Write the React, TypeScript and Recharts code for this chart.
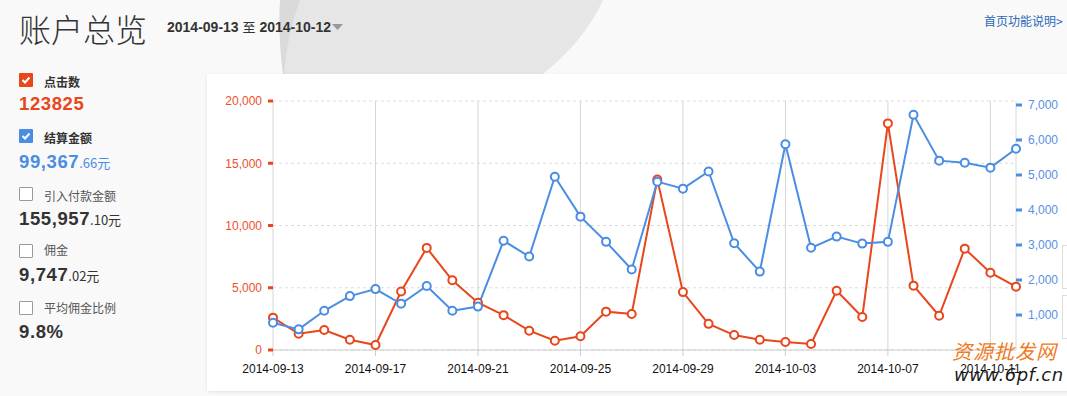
import React from 'react';
import { LineChart, Line, XAxis, YAxis, CartesianGrid } from 'recharts';

const dates = [
  '2014-09-13', '2014-09-14', '2014-09-15', '2014-09-16', '2014-09-17', '2014-09-18',
  '2014-09-19', '2014-09-20', '2014-09-21', '2014-09-22', '2014-09-23', '2014-09-24',
  '2014-09-25', '2014-09-26', '2014-09-27', '2014-09-28', '2014-09-29', '2014-09-30',
  '2014-10-01', '2014-10-02', '2014-10-03', '2014-10-04', '2014-10-05', '2014-10-06',
  '2014-10-07', '2014-10-08', '2014-10-09', '2014-10-10', '2014-10-11', '2014-10-12',
];

// 点击数 (left axis)
const clicks = [
  2600, 1300, 1600, 830, 400, 4700, 8200, 5600, 3800, 2800, 1550, 750, 1100, 3080, 2890,
  13700, 4650, 2100, 1200, 830, 640, 480, 4760, 2650, 18200, 5170, 2750, 8140, 6210, 5090,
];

// 结算金额 (right axis)
const amounts = [
  780, 590, 1120, 1540, 1740, 1320, 1830, 1120, 1240, 3120, 2670, 4950, 3810, 3090, 2300,
  4810, 4610, 5100, 3050, 2240, 5880, 2920, 3240, 3040, 3090, 6720, 5410, 5350, 5210, 5750,
];

const leftTicks = [0, 5000, 10000, 15000, 20000];
const rightTicks = [1000, 2000, 3000, 4000, 5000, 6000, 7000];

const RED = '#e8461b';
const BLUE = '#4a8de3';

const data = dates.map((d, i) => ({ date: d, clicks: clicks[i], amount: amounts[i] }));

const fmt = (v: number) => v.toLocaleString('en-US');

const Check: React.FC<{ color?: string; top: number }> = ({ color, top }) => (
  <div
    style={{
      position: 'absolute', left: 19, top, width: 14, height: 14, boxSizing: 'border-box',
      background: color || '#fff', border: color ? 'none' : '1px solid #9a9a9a', borderRadius: 1,
    }}
  >
    {color && (
      <svg width={14} height={14} style={{ display: 'block' }}>
        <polyline points="3.5,7 6,9.5 10.5,4.5" fill="none" stroke="#fff" strokeWidth={2} />
      </svg>
    )}
  </div>
);

const label = (text: string, top: number, bold: boolean) => (
  <div style={{
    position: 'absolute', left: 44, top, fontSize: 12, lineHeight: '14px',
    fontFamily: '"Noto Sans CJK SC", sans-serif', fontWeight: bold ? 700 : 400,
    color: bold ? '#333' : '#555',
  }}>{text}</div>
);

const big = (main: string, rest: string, top: number, color: string) => (
  <div style={{
    position: 'absolute', left: 19, top, color, whiteSpace: 'nowrap',
    fontFamily: '"Liberation Sans", Arial, sans-serif', lineHeight: '20px',
  }}>
    <span style={{ fontSize: 18.5, fontWeight: 700, letterSpacing: 0.6 }}>{main}</span>
    {rest && <span style={{ fontSize: 13, fontFamily: '"Noto Sans CJK SC", sans-serif' }}>{rest}</span>}
  </div>
);

const App: React.FC = () => (
  <div style={{ position: 'fixed', left: 0, top: 0, width: 1067, height: 396, overflow: 'hidden', background: '#f9f9f9' }}>
    <svg width={1067} height={80} style={{ position: 'absolute', left: 0, top: 0 }}>
      <path d="M280,0 L603,0 Q585,40 543,74 L283,74 Q278,35 280,0 Z" fill="#e6e6e6" />
      <path d="M280,0 L300,0 Q287,35 284,74 L283,74 Q278,35 280,0 Z" fill="#d9dadb" />
    </svg>

    <div style={{
      position: 'absolute', left: 19, top: 8, fontSize: 32, lineHeight: '40px', color: '#333',
      fontFamily: '"Noto Sans CJK SC", sans-serif', fontWeight: 300,
    }}>账户总览</div>
    <div style={{
      position: 'absolute', left: 167, top: 19, fontSize: 14, lineHeight: '16px', color: '#333',
      fontFamily: '"Liberation Sans", Arial, sans-serif', fontWeight: 700, whiteSpace: 'nowrap',
    }}>
      2014-09-13 <span style={{ fontWeight: 400, fontSize: 13, fontFamily: '"Noto Sans CJK SC", sans-serif' }}>至</span> 2014-10-12
      <svg width={12} height={8} style={{ display: 'inline-block', marginLeft: 1, verticalAlign: 'middle' }}>
        <polygon points="0,0 11,0 5.5,6" fill="#999" />
      </svg>
    </div>
    <div style={{
      position: 'absolute', left: 984, top: 13, fontSize: 12, lineHeight: '16px', color: '#2a68b8',
      fontFamily: '"Noto Sans CJK SC", sans-serif', whiteSpace: 'nowrap',
    }}>首页功能说明&gt;</div>

    <Check color={RED} top={73} />
    {label('点击数', 75, true)}
    {big('123825', '', 94, RED)}
    <Check color={BLUE} top={129} />
    {label('结算金额', 131, true)}
    {big('99,367', '.66元', 152, BLUE)}
    <Check top={187} />
    {label('引入付款金额', 189, false)}
    {big('155,957', '.10元', 209, '#333')}
    <Check top={244} />
    {label('佣金', 243, false)}
    {big('9,747', '.02元', 265, '#333')}
    <Check top={301} />
    {label('平均佣金比例', 301, false)}
    {big('9.8%', '', 322, '#333')}

    <div style={{
      position: 'absolute', left: 207, top: 74, width: 870, height: 317, background: '#fff',
      boxShadow: '0 1px 3px rgba(0,0,0,0.10)',
    }}>
      <LineChart
        width={860}
        height={317}
        data={data}
        margin={{ top: 27, right: 0, bottom: 11, left: 0 }}
        style={{ fontFamily: '"Liberation Sans", Arial, sans-serif' }}
      >
        <CartesianGrid yAxisId="left" vertical={false} stroke="#dcdcdc" strokeDasharray="3 3" />
        <CartesianGrid yAxisId="left" horizontal={false} stroke="#d6d6d6" />
        <XAxis
          dataKey="date"
          interval={3}
          tickSize={6}
          tickMargin={8}
          height={30}
          axisLine={{ stroke: '#cccccc' }}
          tickLine={{ stroke: '#cccccc' }}
          tick={{ fill: '#111', fontSize: 12 }}
        />
        <YAxis
          yAxisId="left"
          orientation="left"
          width={66}
          domain={[0, 20000]}
          ticks={leftTicks}
          tickFormatter={fmt}
          axisLine={false}
          tickSize={5}
          tickMargin={6}
          tickLine={{ stroke: RED, strokeWidth: 3 }}
          tick={{ fill: '#ee4f2c', fontSize: 12 }}
        />
        <YAxis
          yAxisId="right"
          orientation="right"
          width={51}
          domain={[0, 7114]}
          ticks={rightTicks}
          tickFormatter={fmt}
          axisLine={false}
          tickSize={6}
          tickMargin={6}
          tickLine={{ stroke: BLUE, strokeWidth: 3 }}
          tick={{ fill: '#5b8fe6', fontSize: 12 }}
        />
        <Line
          yAxisId="left"
          dataKey="clicks"
          stroke={RED}
          strokeWidth={2}
          dot={{ r: 4, fill: '#fff', stroke: RED, strokeWidth: 2 }}
          isAnimationActive={false}
        />
        <Line
          yAxisId="right"
          dataKey="amount"
          stroke={BLUE}
          strokeWidth={2}
          dot={{ r: 4, fill: '#fff', stroke: BLUE, strokeWidth: 2 }}
          isAnimationActive={false}
        />
      </LineChart>
    </div>

    <div style={{ position: 'absolute', left: 1062, top: 245, width: 12, height: 42, border: '1px solid #ddd', background: '#fff' }} />
    <div style={{ position: 'absolute', left: 1062, top: 295, width: 12, height: 42, border: '1px solid #ddd', background: '#fff' }} />

    <div style={{
      position: 'absolute', left: 952, top: 339, fontSize: 20, lineHeight: '24px', color: '#f07a22',
      fontFamily: '"Noto Sans CJK SC", sans-serif', letterSpacing: 1, fontStyle: 'italic',
    }}>资源批发网</div>
    <div style={{
      position: 'absolute', left: 954, top: 364, fontSize: 18, lineHeight: '22px', color: '#1a1a1a',
      fontFamily: '"DejaVu Sans", sans-serif', fontStyle: 'italic', letterSpacing: 0.5,
    }}>www.6pf.cn</div>
  </div>
);

export default App;
